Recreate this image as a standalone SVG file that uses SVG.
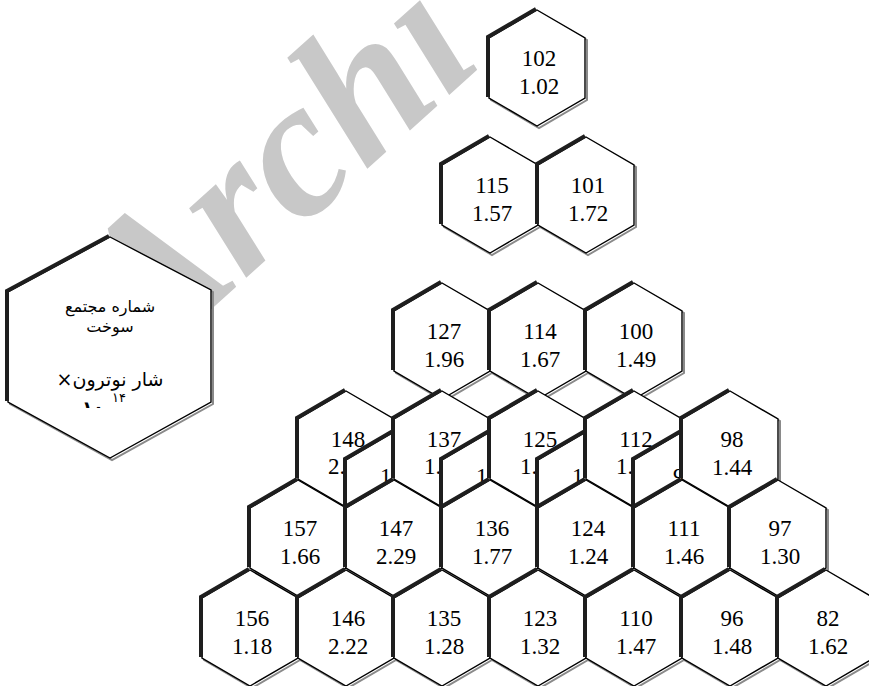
<svg xmlns="http://www.w3.org/2000/svg" width="869" height="686" viewBox="0 0 869 686">
<style>
.hx{fill:#fff;stroke:#000;stroke-width:1.4}
.sh{fill:none;stroke:#8a8a8a;stroke-width:2}
.tk{fill:none;stroke:#1e1e1e;stroke-width:4}
.t{font-family:"Liberation Serif","Times New Roman",serif;font-size:23px;text-anchor:middle;fill:#000}
.ts{font-family:"Liberation Serif","Times New Roman",serif;font-size:23px;text-anchor:start;fill:#000}
.fa{font-family:"DejaVu Sans","Noto Sans",sans-serif;text-anchor:middle;fill:#000}
</style>
<defs>
<polygon id="hx" points="0,0 48,28 48,88 0,116 -48,88 -48,28"/>
<polyline id="hk" points="-48,88 -48,28 0,0"/>
<clipPath id="lc"><rect x="0" y="380" width="220" height="28"/></clipPath>
</defs>
<rect width="869" height="686" fill="#fff"/>
<text transform="translate(146,368) rotate(-42)" font-family="Liberation Serif, serif" font-weight="bold" font-style="italic" font-size="196" fill="#c8c8c8">Archi</text>

<g id="legend">
<polygon points="110,237 211,290 211,402 110,458 8,402 8,292" class="sh" transform="translate(2,2)"/>
<polygon points="110,237 211,290 211,402 110,458 8,402 8,292" class="hx"/>
<polyline points="8,402 8,292 110,237" class="tk" transform="translate(-1,-1)"/>
<text class="fa" direction="rtl" x="110" y="312" font-size="16">شماره مجتمع</text>
<text class="fa" direction="rtl" x="110" y="332" font-size="16">سوخت</text>
<text class="fa" direction="rtl" x="110" y="386" font-size="19">شار نوترون×</text>
<g clip-path="url(#lc)">
<text class="fa" x="93" y="414" font-size="18" font-weight="bold">۱۰</text>
<text class="fa" x="119" y="402" font-size="13">۱۴</text>
</g>
</g>

<g id="connectors"></g>

<g id="hex-102" transform="translate(537,10)"><use href="#hx" class="sh" x="2" y="2"/><use href="#hx" class="hx"/><use href="#hk" class="tk" x="-1" y="-1"/><text class="t" x="2" y="56">102</text><text class="t" x="2" y="84">1.02</text></g>

<g id="hex-115" transform="translate(490,137)"><use href="#hx" class="sh" x="2" y="2"/><use href="#hx" class="hx"/><use href="#hk" class="tk" x="-1" y="-1"/><text class="t" x="2" y="56">115</text><text class="t" x="2" y="84">1.57</text></g>
<g id="hex-101" transform="translate(586,137)"><use href="#hx" class="sh" x="2" y="2"/><use href="#hx" class="hx"/><use href="#hk" class="tk" x="-1" y="-1"/><text class="t" x="2" y="56">101</text><text class="t" x="2" y="84">1.72</text></g>

<g id="hex-127" transform="translate(442,283)"><use href="#hx" class="sh" x="2" y="2"/><use href="#hx" class="hx"/><use href="#hk" class="tk" x="-1" y="-1"/><text class="t" x="2" y="56">127</text><text class="t" x="2" y="84">1.96</text></g>
<g id="hex-114" transform="translate(538,283)"><use href="#hx" class="sh" x="2" y="2"/><use href="#hx" class="hx"/><use href="#hk" class="tk" x="-1" y="-1"/><text class="t" x="2" y="56">114</text><text class="t" x="2" y="84">1.67</text></g>
<g id="hex-100" transform="translate(634,283)"><use href="#hx" class="sh" x="2" y="2"/><use href="#hx" class="hx"/><use href="#hk" class="tk" x="-1" y="-1"/><text class="t" x="2" y="56">100</text><text class="t" x="2" y="84">1.49</text></g>

<g id="hex-148" transform="translate(346,391)"><use href="#hx" class="sh" x="2" y="2"/><use href="#hx" class="hx"/><use href="#hk" class="tk" x="-1" y="-1"/><text class="t" x="2" y="56">148</text><text class="ts" x="-18" y="83">2.</text></g>
<g id="ghost-1" transform="translate(394,432)"><use href="#hx" class="hx"/><use href="#hk" class="tk" x="-1" y="-1"/><text class="ts" x="-14" y="52">1</text></g>
<g id="hex-137" transform="translate(442,391)"><use href="#hx" class="sh" x="2" y="2"/><use href="#hx" class="hx"/><use href="#hk" class="tk" x="-1" y="-1"/><text class="t" x="2" y="56">137</text><text class="ts" x="-18" y="83">1.</text></g>
<g id="ghost-2" transform="translate(490,432)"><use href="#hx" class="hx"/><use href="#hk" class="tk" x="-1" y="-1"/><text class="ts" x="-14" y="52">1</text></g>
<g id="hex-125" transform="translate(538,391)"><use href="#hx" class="sh" x="2" y="2"/><use href="#hx" class="hx"/><use href="#hk" class="tk" x="-1" y="-1"/><text class="t" x="2" y="56">125</text><text class="ts" x="-18" y="83">1.</text></g>
<g id="ghost-3" transform="translate(586,432)"><use href="#hx" class="hx"/><use href="#hk" class="tk" x="-1" y="-1"/><text class="ts" x="-14" y="52">1</text></g>
<g id="hex-112" transform="translate(634,391)"><use href="#hx" class="sh" x="2" y="2"/><use href="#hx" class="hx"/><use href="#hk" class="tk" x="-1" y="-1"/><text class="t" x="2" y="56">112</text><text class="ts" x="-18" y="83">1.</text></g>
<g id="ghost-4" transform="translate(682,432)"><use href="#hx" class="hx"/><use href="#hk" class="tk" x="-1" y="-1"/><text class="ts" x="-9" y="52">9</text></g>
<g id="hex-98" transform="translate(730,391)"><use href="#hx" class="sh" x="2" y="2"/><use href="#hx" class="hx"/><use href="#hk" class="tk" x="-1" y="-1"/><text class="t" x="2" y="56">98</text><text class="t" x="2" y="84">1.44</text></g>

<g id="hex-157" transform="translate(298,480)"><use href="#hx" class="sh" x="2" y="2"/><use href="#hx" class="hx"/><use href="#hk" class="tk" x="-1" y="-1"/><text class="t" x="2" y="56">157</text><text class="t" x="2" y="84">1.66</text></g>
<g id="hex-147" transform="translate(394,480)"><use href="#hx" class="sh" x="2" y="2"/><use href="#hx" class="hx"/><use href="#hk" class="tk" x="-1" y="-1"/><text class="t" x="2" y="56">147</text><text class="t" x="2" y="84">2.29</text></g>
<g id="hex-136" transform="translate(490,480)"><use href="#hx" class="sh" x="2" y="2"/><use href="#hx" class="hx"/><use href="#hk" class="tk" x="-1" y="-1"/><text class="t" x="2" y="56">136</text><text class="t" x="2" y="84">1.77</text></g>
<g id="hex-124" transform="translate(586,480)"><use href="#hx" class="sh" x="2" y="2"/><use href="#hx" class="hx"/><use href="#hk" class="tk" x="-1" y="-1"/><text class="t" x="2" y="56">124</text><text class="t" x="2" y="84">1.24</text></g>
<g id="hex-111" transform="translate(682,480)"><use href="#hx" class="sh" x="2" y="2"/><use href="#hx" class="hx"/><use href="#hk" class="tk" x="-1" y="-1"/><text class="t" x="2" y="56">111</text><text class="t" x="2" y="84">1.46</text></g>
<g id="hex-97" transform="translate(778,480)"><use href="#hx" class="sh" x="2" y="2"/><use href="#hx" class="hx"/><use href="#hk" class="tk" x="-1" y="-1"/><text class="t" x="2" y="56">97</text><text class="t" x="2" y="84">1.30</text></g>

<g id="hex-156" transform="translate(250,570)"><use href="#hx" class="sh" x="2" y="2"/><use href="#hx" class="hx"/><use href="#hk" class="tk" x="-1" y="-1"/><text class="t" x="2" y="56">156</text><text class="t" x="2" y="84">1.18</text></g>
<g id="hex-146" transform="translate(346,570)"><use href="#hx" class="sh" x="2" y="2"/><use href="#hx" class="hx"/><use href="#hk" class="tk" x="-1" y="-1"/><text class="t" x="2" y="56">146</text><text class="t" x="2" y="84">2.22</text></g>
<g id="hex-135" transform="translate(442,570)"><use href="#hx" class="sh" x="2" y="2"/><use href="#hx" class="hx"/><use href="#hk" class="tk" x="-1" y="-1"/><text class="t" x="2" y="56">135</text><text class="t" x="2" y="84">1.28</text></g>
<g id="hex-123" transform="translate(538,570)"><use href="#hx" class="sh" x="2" y="2"/><use href="#hx" class="hx"/><use href="#hk" class="tk" x="-1" y="-1"/><text class="t" x="2" y="56">123</text><text class="t" x="2" y="84">1.32</text></g>
<g id="hex-110" transform="translate(634,570)"><use href="#hx" class="sh" x="2" y="2"/><use href="#hx" class="hx"/><use href="#hk" class="tk" x="-1" y="-1"/><text class="t" x="2" y="56">110</text><text class="t" x="2" y="84">1.47</text></g>
<g id="hex-96" transform="translate(730,570)"><use href="#hx" class="sh" x="2" y="2"/><use href="#hx" class="hx"/><use href="#hk" class="tk" x="-1" y="-1"/><text class="t" x="2" y="56">96</text><text class="t" x="2" y="84">1.48</text></g>
<g id="hex-82" transform="translate(826,570)"><use href="#hx" class="sh" x="2" y="2"/><use href="#hx" class="hx"/><use href="#hk" class="tk" x="-1" y="-1"/><text class="t" x="2" y="56">82</text><text class="t" x="2" y="84">1.62</text></g>
</svg>
